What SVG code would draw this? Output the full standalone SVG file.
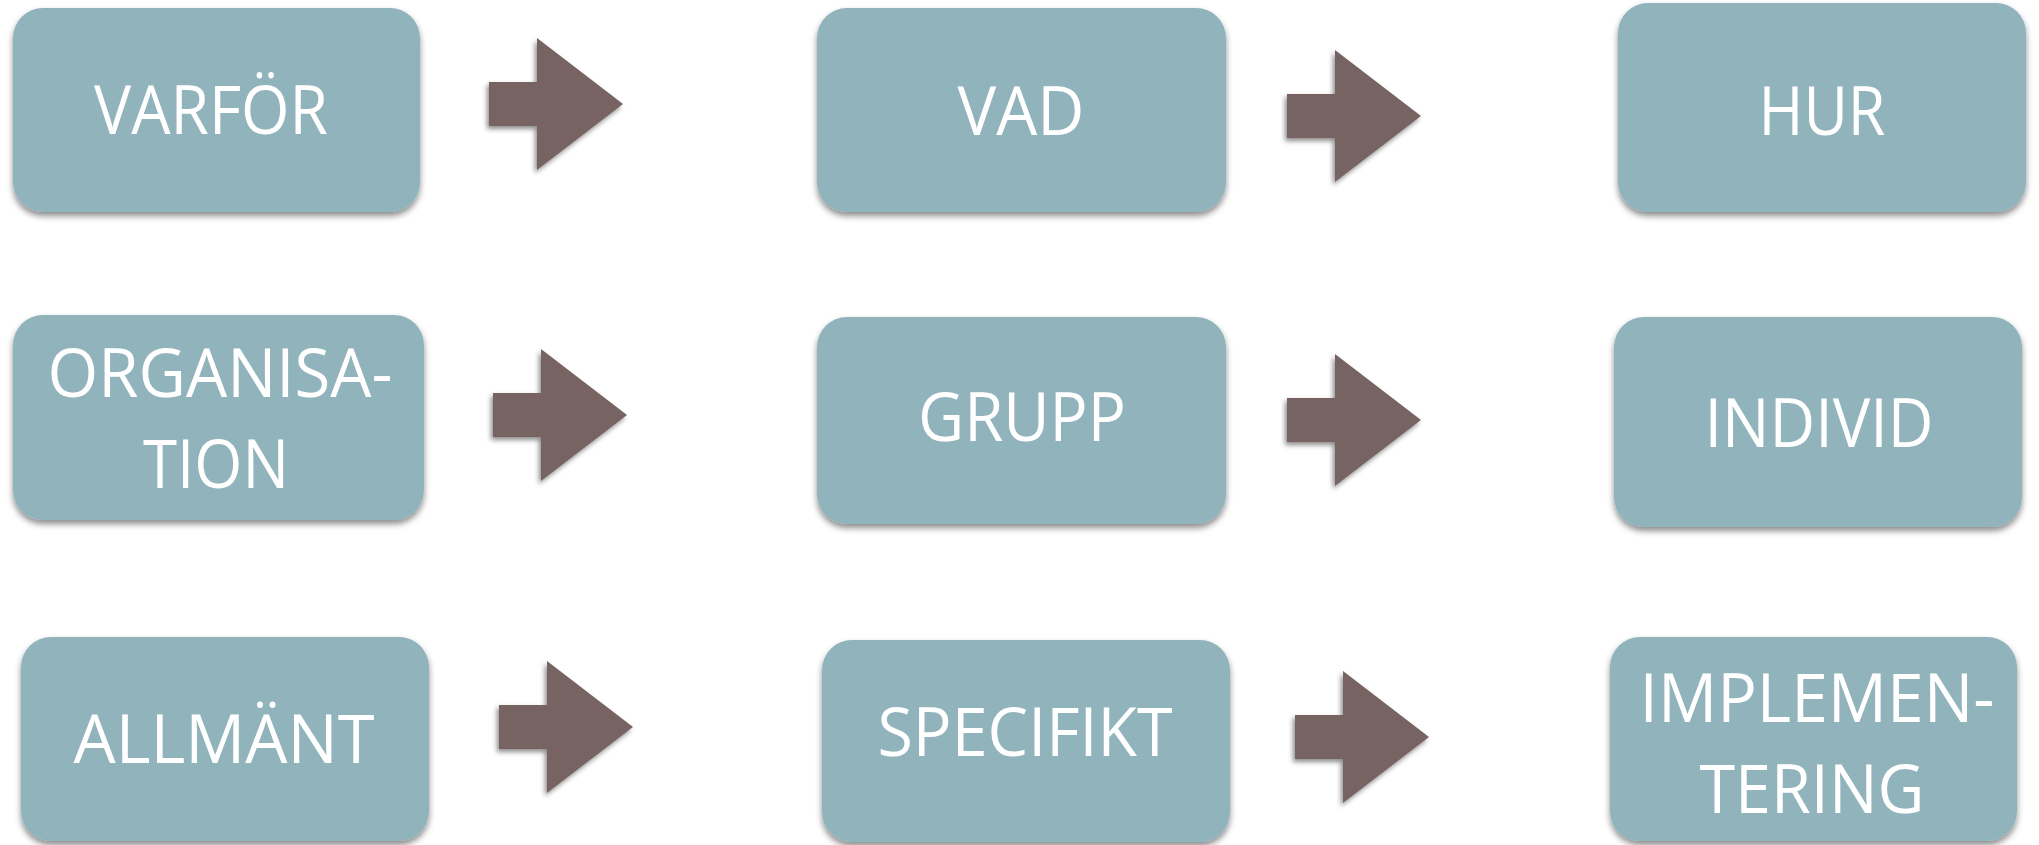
<svg xmlns="http://www.w3.org/2000/svg" width="2039" height="845" viewBox="0 0 2039 845">
  <defs>
    <filter id="boxShadow" x="-10%" y="-10%" width="120%" height="130%">
      <feDropShadow dx="0" dy="4" stdDeviation="3" flood-color="#000" flood-opacity="0.45"/>
    </filter>
    <filter id="arrowShadow" x="-20%" y="-20%" width="140%" height="140%">
      <feDropShadow dx="-2" dy="3" stdDeviation="2.5" flood-color="#000" flood-opacity="0.45"/>
    </filter>
    <path id="arrowShape" d="M0,-22 H48 V-66 L134,0 L48,66 V22 H0 Z"/>
  </defs>
  <style>
    .box { fill: #91b3bc; filter: url(#boxShadow); }
    .arrow { fill: #766362; filter: url(#arrowShadow); }
    .label { fill: #ffffff; font-family: "Open Sans", "Lato", "Liberation Sans", sans-serif; font-size: 67px; text-anchor: middle; }
  </style>
  <rect width="2039" height="845" fill="#ffffff"/>

  <g id="connectors">
    <use href="#arrowShape" class="arrow" transform="translate(489,104)"/>
    <use href="#arrowShape" class="arrow" transform="translate(1287,116)"/>
    <use href="#arrowShape" class="arrow" transform="translate(493,415)"/>
    <use href="#arrowShape" class="arrow" transform="translate(1287,420)"/>
    <use href="#arrowShape" class="arrow" transform="translate(499,727)"/>
    <use href="#arrowShape" class="arrow" transform="translate(1295,737)"/>
  </g>

  <g id="node-varfor">
    <rect class="box" x="13" y="8" width="407" height="204" rx="30"/>
    <text class="label" x="211" y="134" textLength="234" lengthAdjust="spacingAndGlyphs">VARFÖR</text>
  </g>
  <g id="node-vad">
    <rect class="box" x="817" y="8" width="409" height="204" rx="30"/>
    <text class="label" x="1021" y="135" textLength="127" lengthAdjust="spacingAndGlyphs">VAD</text>
  </g>
  <g id="node-hur">
    <rect class="box" x="1618" y="3" width="408" height="209" rx="30"/>
    <text class="label" x="1822" y="135" textLength="127" lengthAdjust="spacingAndGlyphs">HUR</text>
  </g>

  <g id="node-organisation">
    <rect class="box" x="13" y="315" width="411" height="205" rx="30"/>
    <text class="label" x="220" y="397" textLength="345" lengthAdjust="spacingAndGlyphs">ORGANISA-</text>
    <text class="label" x="216" y="488" textLength="146" lengthAdjust="spacingAndGlyphs">TION</text>
  </g>
  <g id="node-grupp">
    <rect class="box" x="817" y="317" width="409" height="207" rx="30"/>
    <text class="label" x="1022" y="441" textLength="208" lengthAdjust="spacingAndGlyphs">GRUPP</text>
  </g>
  <g id="node-individ">
    <rect class="box" x="1614" y="317" width="408" height="210" rx="30"/>
    <text class="label" x="1819" y="447" textLength="229" lengthAdjust="spacingAndGlyphs">INDIVID</text>
  </g>

  <g id="node-allmant">
    <rect class="box" x="21" y="637" width="408" height="204" rx="30"/>
    <text class="label" x="224" y="763" textLength="301" lengthAdjust="spacingAndGlyphs">ALLMÄNT</text>
  </g>
  <g id="node-specifikt">
    <rect class="box" x="822" y="640" width="408" height="202" rx="30"/>
    <text class="label" x="1025" y="756" textLength="295" lengthAdjust="spacingAndGlyphs">SPECIFIKT</text>
  </g>
  <g id="node-implementering">
    <rect class="box" x="1610" y="637" width="407" height="204" rx="30"/>
    <text class="label" x="1817" y="722" textLength="355" lengthAdjust="spacingAndGlyphs">IMPLEMEN-</text>
    <text class="label" x="1812" y="813" textLength="225" lengthAdjust="spacingAndGlyphs">TERING</text>
  </g>
</svg>
